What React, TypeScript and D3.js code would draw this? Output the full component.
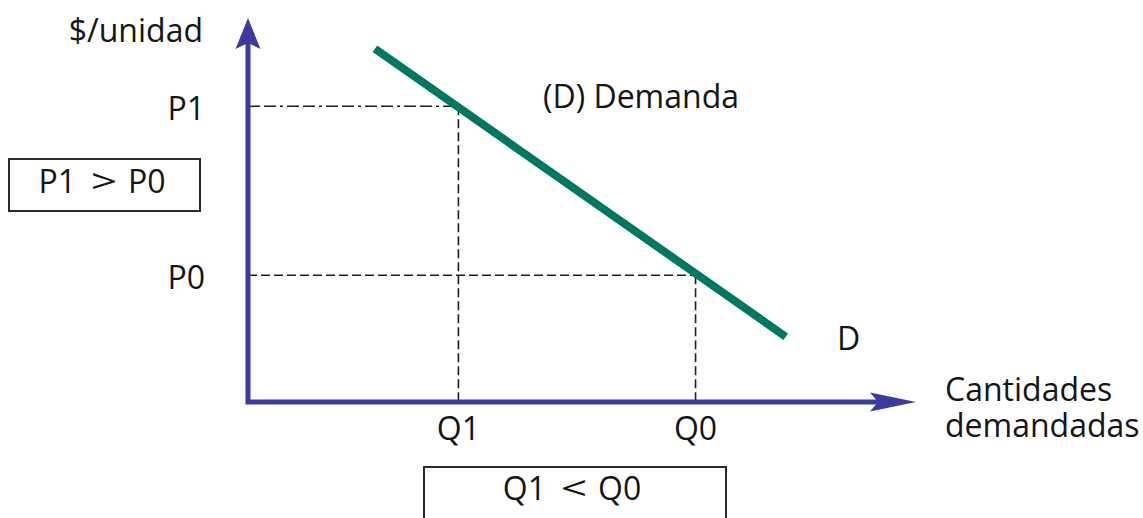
import React from "react";
import * as d3 from "d3";

// Demand curve endpoints (quantity, price) in abstract units
const demandQ = [19, 80.5];
const demandP = [92, 17];

// Reference levels
const levelNames = ["1", "0"];
const quantities = [31.5, 67];
const prices = [77, 33];

const xLabel = ["Cantidades", "demandadas"];
const yLabel = "$/unidad";
const curveTitle = "(D) Demanda";
const curveTag = "D";
const priceNote = ["P1", ">", "P0"];
const quantityNote = ["Q1", "<", "Q0"];

const W = 1143;
const H = 518;

const axisColor = "#3b3b9c";
const curveColor = "#00785f";
const inkColor = "#151515";
const font = "'Open Sans', 'Noto Sans', sans-serif";

export default function App() {
  const x = d3.scaleLinear().domain([0, 100]).range([248, 916]);
  const y = d3.scaleLinear().domain([0, 100]).range([402, 18]);

  const demandPts: [number, number][] = demandQ.map((q, i) => [q, demandP[i]]);
  const line = d3
    .line<[number, number]>()
    .x((d) => x(d[0]))
    .y((d) => y(d[1]));

  const x0 = x(0);
  const y0 = y(0);
  const yTop = y(100);
  const xEnd = x(100);

  const yArrow = `M${x0},${yTop} L${x0 + 12.5},${yTop + 31} L${x0},${yTop + 25} L${x0 - 12.5},${yTop + 31} Z`;
  const xArrow = `M${xEnd},${y0} L${xEnd - 46},${y0 - 9.5} L${xEnd - 38},${y0} L${xEnd - 46},${y0 + 9.5} Z`;

  const textStyle = { fontFamily: font, fontSize: 32, fill: inkColor } as const;

  // comparison note with a widened relation sign
  const note = (parts: string[], cx: number, by: number) => (
    <g>
      <text x={cx - 28} y={by} textAnchor="end" {...textStyle}>
        {parts[0]}
      </text>
      <text
        transform={`translate(${cx},${by}) scale(1.45,1)`}
        textAnchor="middle"
        {...textStyle}
      >
        {parts[1]}
      </text>
      <text x={cx + 24} y={by} {...textStyle}>
        {parts[2]}
      </text>
    </g>
  );

  return (
    <svg
      width={W}
      height={H}
      style={{ position: "absolute", left: 0, top: 0, background: "#fff" }}
    >
      {/* guide lines */}
      {quantities.map((q, i) => (
        <g key={i} stroke="#1e1e1e" strokeWidth={1.6} fill="none">
          <line
            x1={x0}
            x2={x(q)}
            y1={y(prices[i])}
            y2={y(prices[i])}
            strokeDasharray={i === 0 ? "12,4,12,4,3,4" : "9,4"}
          />
          <line x1={x(q)} x2={x(q)} y1={y(prices[i])} y2={y0} strokeDasharray="9,4" />
        </g>
      ))}

      {/* axes */}
      <path
        d={`M${x0},${yTop + 20} L${x0},${y0} L${xEnd - 30},${y0}`}
        stroke={axisColor}
        strokeWidth={5}
        fill="none"
        strokeLinejoin="miter"
        strokeLinecap="square"
      />
      <path d={yArrow} fill={axisColor} />
      <path d={xArrow} fill={axisColor} />

      {/* demand curve */}
      <path d={line(demandPts) || ""} stroke={curveColor} strokeWidth={8} fill="none" />

      {/* axis titles */}
      <text x={203} y={42} textAnchor="end" {...textStyle}>
        {yLabel}
      </text>
      <text {...textStyle}>
        {xLabel.map((t, i) => (
          <tspan key={i} x={945} y={401 + i * 36}>
            {t}
          </tspan>
        ))}
      </text>

      {/* level labels */}
      {prices.map((p, i) => (
        <text key={"p" + i} x={205} y={y(p) + 14} textAnchor="end" {...textStyle}>
          {"P" + levelNames[i]}
        </text>
      ))}
      {quantities.map((q, i) => (
        <text key={"q" + i} x={x(q)} y={440} textAnchor="middle" {...textStyle}>
          {"Q" + levelNames[i]}
        </text>
      ))}

      {/* curve labels */}
      <text x={543} y={108} {...textStyle}>
        {curveTitle}
      </text>
      <text x={837} y={350} {...textStyle}>
        {curveTag}
      </text>

      {/* comparison boxes */}
      <rect x={9} y={159} width={191} height={52} fill="none" stroke="#2a2a2a" strokeWidth={2} />
      {note(priceNote, 104, 193)}
      <rect x={424} y={467} width={302} height={60} fill="none" stroke="#2a2a2a" strokeWidth={2} />
      {note(quantityNote, 574, 500)}
    </svg>
  );
}
